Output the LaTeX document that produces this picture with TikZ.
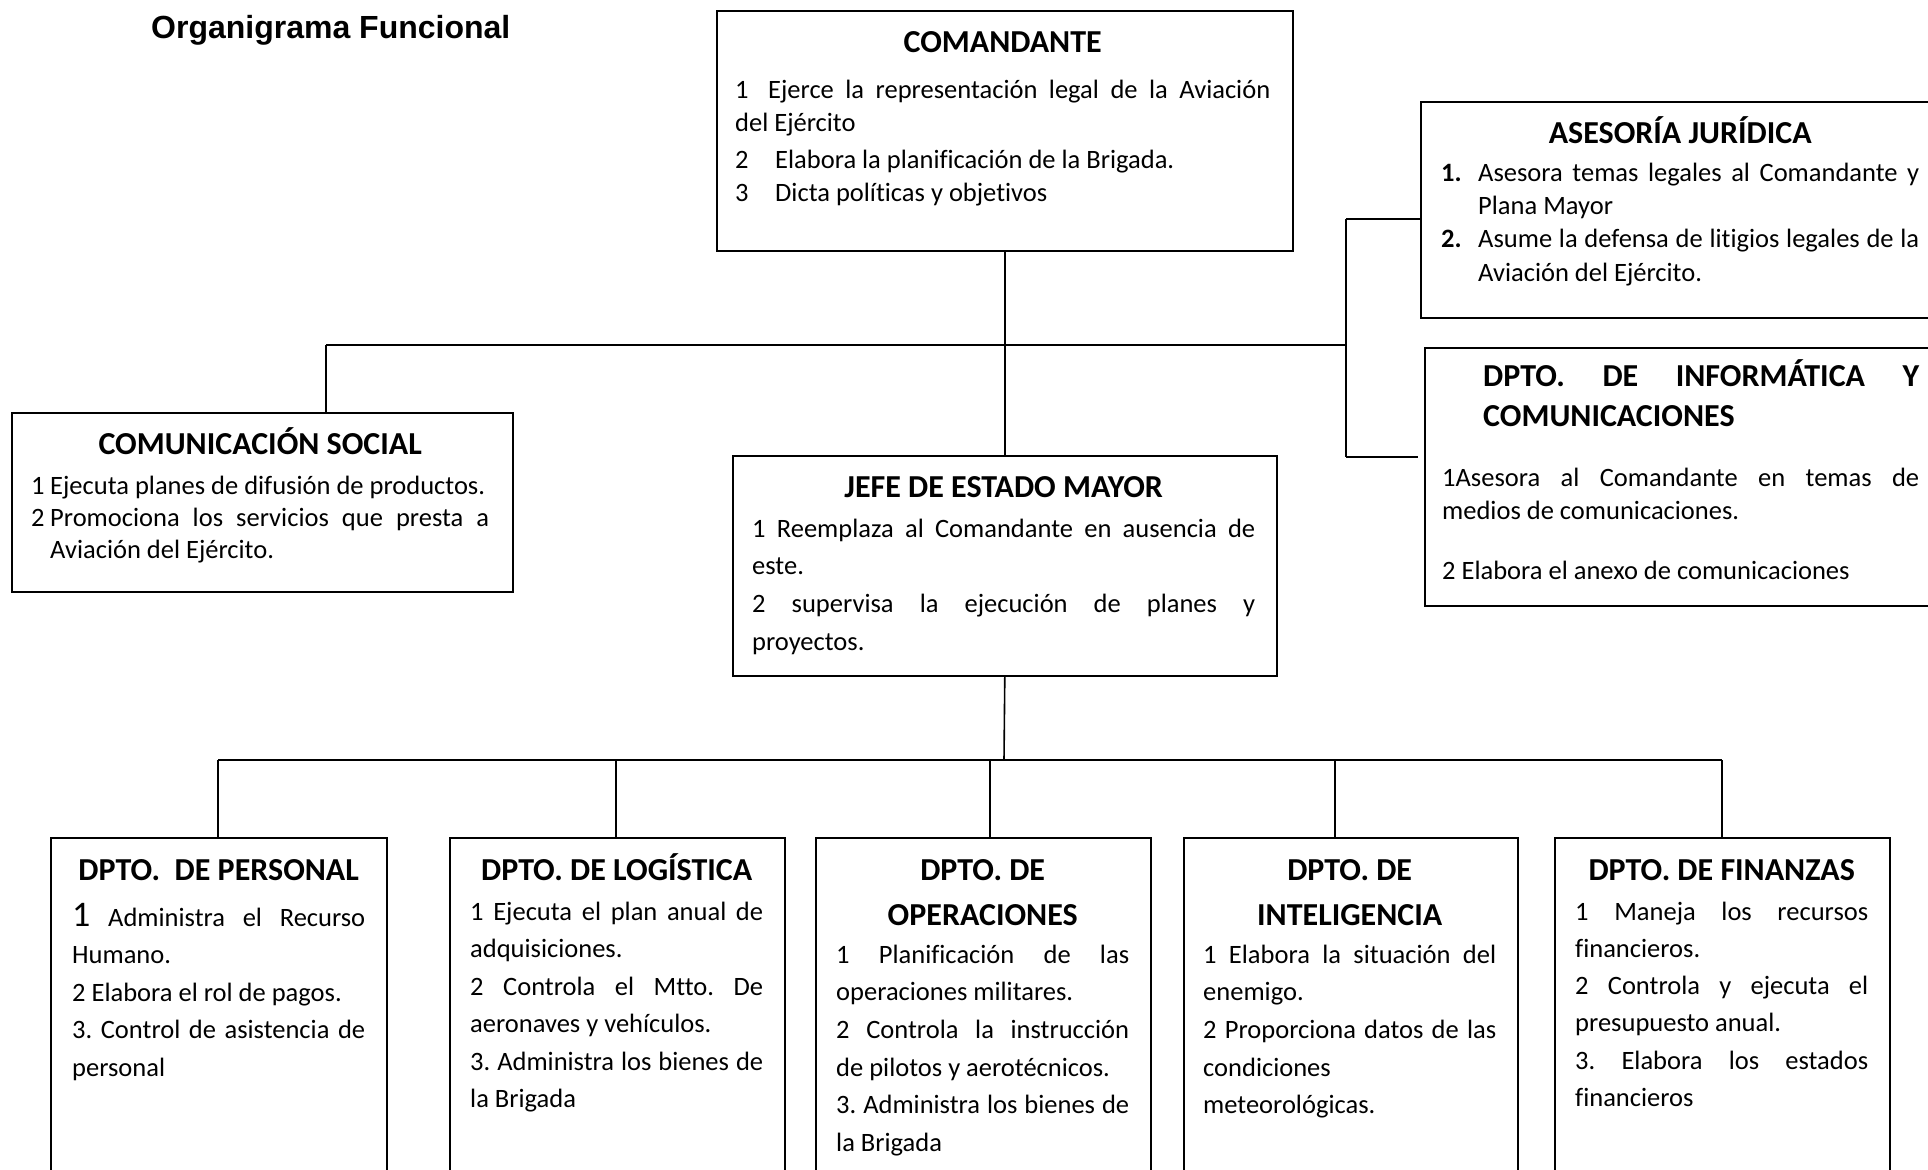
\documentclass[tikz,border=0pt]{standalone}
\usepackage{fontspec}
\setmainfont{Carlito}[Ligatures=NoCommon]
\newfontfamily\arialfont{Liberation Sans}
\setlength\parindent{0pt}
\setlength\parskip{0pt}
\frenchspacing
\tolerance=9999
\hbadness=10000
\hfuzz=20pt
\newcommand\ttl{\fontsize{32}{40}\selectfont\bfseries}
\newcommand\tstrut{\vrule height 28pt depth 0pt width 0pt}
\tikzset{
  conn/.style={line width=1.6pt, black},
  boxst/.style={draw, line width=1.6pt, rectangle, inner sep=0pt, anchor=north west},
  txt/.style={anchor=north west, inner sep=0pt, align=justify},
}
\begin{document}
\begin{tikzpicture}[x=1pt, y=-1pt]
\useasboundingbox (0,0) rectangle (1928,1170);
\clip (0,0) rectangle (1928,1170);
\fill[white] (0,0) rectangle (1928,1170);

% title
\node[anchor=base west, inner sep=0pt] (title) at (151,38) {\arialfont\bfseries\fontsize{32}{38}\selectfont Organigrama Funcional};

% boxes
\node[boxst, minimum width=576pt, minimum height=240pt] (com) at (716,10) {};
\node[boxst, minimum width=560pt, minimum height=216pt] (ase) at (1420,101) {};
\node[boxst, minimum width=560pt, minimum height=258pt] (inf) at (1424,347) {};
\node[boxst, minimum width=501pt, minimum height=179pt] (cs) at (11,412) {};
\node[boxst, minimum width=544pt, minimum height=220pt] (jefe) at (732,455) {};
\node[boxst, minimum width=336pt, minimum height=400pt] (per) at (50,837) {};
\node[boxst, minimum width=335pt, minimum height=400pt] (log) at (449,837) {};
\node[boxst, minimum width=335pt, minimum height=400pt] (ope) at (815,837) {};
\node[boxst, minimum width=334pt, minimum height=400pt] (int) at (1183,837) {};
\node[boxst, minimum width=335pt, minimum height=400pt] (fin) at (1554,837) {};

% texts
\node[txt, text width=535pt] (comt) at (735,24) {%
{\centering\ttl\tstrut COMANDANTE\par}
\fontsize{26.5}{33}\selectfont\vspace{13pt}
1\hspace{8pt} Ejerce la representación legal de la Aviación\linebreak del Ejército\par\vspace{4pt}
\makebox[40pt][l]{2}Elabora la planificación de la Brigada.\par
\makebox[40pt][l]{3}Dicta políticas y objetivos\par};

\node[txt, text width=478pt] (aset) at (1441,115) {%
{\centering\ttl\tstrut ASESORÍA JURÍDICA\par}
\fontsize{26.5}{33.3}\selectfont\vspace{4.7pt}
\makebox[37pt][l]{\textbf{1.}}\hangindent=37pt\hangafter=1 Asesora temas legales al Comandante y\linebreak Plana Mayor\par
\makebox[37pt][l]{\textbf{2.}}\hangindent=37pt\hangafter=1 Asume la defensa de litigios legales de la\linebreak Aviación del Ejército.\par};

\node[txt, text width=477pt] (inft) at (1442,358) {%
{\leftskip=41pt\ttl\tstrut DPTO. DE INFORMÁTICA Y\linebreak COMUNICACIONES\par}
\fontsize{26.5}{33}\selectfont\vspace{27pt}
1Asesora al Comandante en temas de\linebreak medios de comunicaciones.\par\vspace{27pt}
2 Elabora el anexo de comunicaciones\par};

\node[txt, text width=458pt] (cst) at (31,426) {%
{\centering\ttl\tstrut COMUNICACIÓN SOCIAL\par}
\fontsize{26.5}{32}\selectfont\vspace{8pt}
\makebox[19pt][l]{1}Ejecuta planes de difusión de productos.\par
\makebox[19pt][l]{2}\hangindent=19pt\hangafter=1 Promociona los servicios que presta a\linebreak Aviación del Ejército.\par};

\node[txt, text width=503pt] (jefet) at (752,469) {%
{\centering\ttl\tstrut JEFE DE ESTADO MAYOR\par}
\fontsize{26.5}{37.7}\selectfont\vspace{2.3pt}
1 Reemplaza al Comandante en ausencia de\linebreak este.\par
2 supervisa la ejecución de planes y\linebreak proyectos.\par};

\node[txt, text width=293pt] (pert) at (72,852) {%
{\centering\ttl\tstrut DPTO.\ \ DE PERSONAL\par}
\fontsize{26.5}{37.5}\selectfont\vspace{8.5pt}
{\fontsize{36}{37.5}\selectfont 1} Administra el Recurso\linebreak Humano.\par
2 Elabora el rol de pagos.\par
3. Control de asistencia de\linebreak personal\par};

\node[txt, text width=293pt] (logt) at (470,852) {%
{\centering\ttl\tstrut DPTO. DE LOGÍSTICA\par}
\fontsize{26.5}{37.5}\selectfont\vspace{2.5pt}
1 Ejecuta el plan anual de\linebreak adquisiciones.\par
2 Controla el Mtto. De\linebreak aeronaves y vehículos.\par
3. Administra los bienes de\linebreak la Brigada\par};

\node[txt, text width=293pt] (opet) at (836,852) {%
{\centering\fontsize{32}{45}\selectfont\bfseries\tstrut DPTO. DE\\ OPERACIONES\par}
\fontsize{26.5}{37.6}\selectfont\vspace{0.5pt}
1 Planificación de las\linebreak operaciones militares.\par
2 Controla la instrucción\linebreak de pilotos y aerotécnicos.\par
3. Administra los bienes de\linebreak la Brigada\par};

\node[txt, text width=293pt] (intt) at (1203,852) {%
{\centering\fontsize{32}{45}\selectfont\bfseries\tstrut DPTO. DE\\ INTELIGENCIA\par}
\fontsize{26.5}{37.6}\selectfont\vspace{0.5pt}
1 Elabora la situación del\linebreak enemigo.\par
2 Proporciona datos de las\linebreak condiciones\\ meteorológicas.\par};

\node[txt, text width=293pt] (fint) at (1575,852) {%
{\centering\ttl\tstrut DPTO. DE FINANZAS\par}
\fontsize{26.5}{37.3}\selectfont\vspace{2.5pt}
1 Maneja los recursos\linebreak financieros.\par
2 Controla y ejecuta el\linebreak presupuesto anual.\par
3. Elabora los estados\linebreak financieros\par};

% connectors (upper)
\coordinate (bL) at (326,345);
\coordinate (bR) at (1346,345);
\coordinate (jA) at (1346,219);
\coordinate (jI) at (1346,457);
\draw[conn] (com.south) -- (jefe.north);
\draw[conn] (bL) -- (bR);
\draw[conn] (bL) -- (bL |- cs.north);
\draw[conn] (jA) -- (jI);
\draw[conn] (jA) -- (jA -| ase.west);
\draw[conn] (jI) -- ([xshift=-6pt]jI -| inf.west);

% connectors (lower)
\coordinate (bJ) at (1004,760);
\coordinate (b1) at (218,760);
\coordinate (b2) at (616,760);
\coordinate (b3) at (990,760);
\coordinate (b4) at (1335,760);
\coordinate (b5) at (1722,760);
\draw[conn] (jefe.south) -- (bJ);
\draw[conn] (b1) -- (b5);
\draw[conn] (b1) -- (b1 |- per.north);
\draw[conn] (b2) -- (b2 |- log.north);
\draw[conn] (b3) -- (b3 |- ope.north);
\draw[conn] (b4) -- (b4 |- int.north);
\draw[conn] (b5) -- (b5 |- fin.north);
\end{tikzpicture}
\end{document}
